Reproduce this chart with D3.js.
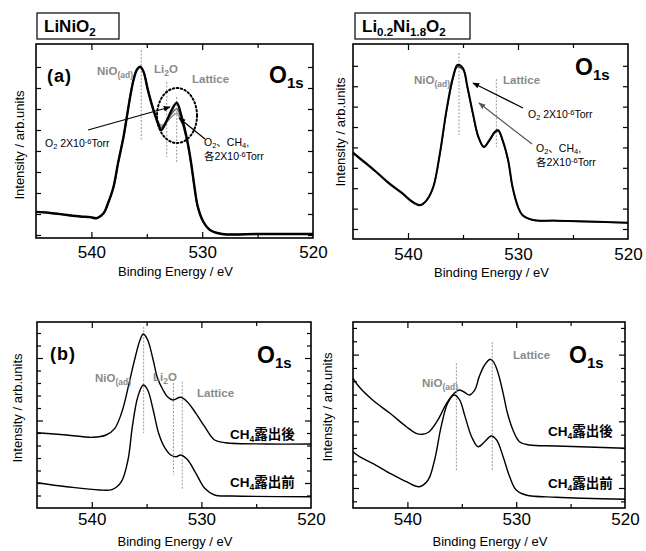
<!DOCTYPE html>
<html>
<head>
<meta charset="utf-8">
<title>O1s XPS spectra</title>
<style>
body { margin: 0; background: #fff; }
text { font-family: 'Liberation Sans', Arial, 'Noto Sans CJK JP', sans-serif; }
.peak { font-weight: bold; fill: #8a8a8a; font-size: 11.5px; }
.orb { font-weight: bold; fill: #000; font-size: 23px; }
.tag { font-weight: bold; fill: #000; font-size: 18px; letter-spacing: 1px; }
.note { fill: #000; font-size: 10.5px; }
.exp { font-weight: bold; fill: #000; font-size: 13.5px; }
.tick-label { font-size: 17px; }
.axis-label { font-size: 13px; }
</style>
<script src="https://cdn.jsdelivr.net/npm/d3@7"></script>
</head>
<body>
<div id="container"></div>
<script>
// ******* Data: binding energy (eV) and intensity (arb. units) *******

// (a) LiNiO2
const energyA = [545.0, 543.7, 542.2, 541.0, 540.1, 539.5, 538.9, 538.5, 538.0, 537.6, 537.1, 536.8,
                 536.5, 536.2, 535.9, 535.6, 535.3, 534.9, 534.4, 534.0, 533.7, 533.2, 532.8, 532.3,
                 531.9, 531.6, 531.3, 531.0, 530.7, 530.4, 529.9, 529.3, 528.2, 524.8, 520.0];
const intensityA_base = [1.10, 1.05, 0.95, 0.88, 0.85, 0.80, 1.03, 1.51, 2.30, 3.41, 4.68, 5.63,
                         6.59, 7.38, 7.86, 8.01, 7.78, 6.90, 5.95, 5.32, 5.00, 5.45, 5.90, 6.30,
                         5.71, 5.10, 4.37, 3.43, 2.30, 1.35, 0.63, 0.24, 0.05, 0.05, 0.05];
const intensityA_O2 = [1.10, 1.05, 0.95, 0.88, 0.85, 0.80, 1.03, 1.51, 2.30, 3.41, 4.68, 5.63,
                       6.59, 7.38, 7.86, 8.01, 7.78, 6.90, 5.95, 5.38, 5.12, 5.40, 5.75, 6.00,
                       5.55, 5.00, 4.33, 3.40, 2.28, 1.34, 0.63, 0.24, 0.05, 0.05, 0.05];
const intensityA_O2CH4 = [1.10, 1.05, 0.95, 0.88, 0.85, 0.80, 1.03, 1.51, 2.30, 3.41, 4.68, 5.63,
                          6.59, 7.38, 7.86, 8.01, 7.78, 6.90, 5.95, 5.42, 5.22, 5.38, 5.60, 5.80,
                          5.45, 4.95, 4.30, 3.38, 2.27, 1.33, 0.63, 0.24, 0.05, 0.05, 0.05];

// Li0.2Ni1.8O2
const energyB = [545.0, 543.8, 542.9, 541.7, 540.5, 539.6, 538.9, 538.3, 537.7, 537.1, 536.5, 535.9,
                 535.5, 535.0, 534.6, 534.1, 533.6, 533.1, 532.6, 532.1, 531.8, 531.4, 530.9, 530.5,
                 530.0, 529.6, 528.6, 526.5, 520.0];
const intensityB_O2 = [3.75, 3.22, 2.81, 2.24, 1.75, 1.34, 1.18, 1.42, 2.07, 3.71, 5.83, 7.47,
                       8.04, 7.88, 6.98, 5.67, 4.52, 4.03, 4.36, 4.77, 4.85, 4.36, 3.38, 2.07,
                       1.09, 0.69, 0.44, 0.41, 0.31];
const intensityB_O2CH4 = [3.70, 3.18, 2.78, 2.20, 1.72, 1.30, 1.15, 1.40, 2.05, 3.65, 5.75, 7.38,
                          7.95, 7.80, 6.90, 5.62, 4.48, 4.00, 4.32, 4.72, 4.80, 4.32, 3.35, 2.05,
                          1.08, 0.68, 0.43, 0.40, 0.30];

// (b) LiNiO2 before / after CH4
const energyC_after = [545.0, 542.3, 539.9, 538.7, 537.9, 537.2, 536.6, 536.1, 535.6, 535.3, 534.9, 534.4,
                       534.0, 533.5, 533.1, 532.6, 531.9, 531.3, 530.5, 529.7, 528.8, 527.8, 524.1, 520.0];
const intensityC_after = [0.805, 0.768, 0.731, 0.768, 0.875, 1.168, 1.595, 1.968, 2.288, 2.384, 2.288, 1.968,
                          1.675, 1.488, 1.381, 1.328, 1.371, 1.301, 1.115, 0.901, 0.688, 0.645, 0.624, 0.624];
const energyC_before = [545.0, 542.3, 539.3, 538.1, 537.3, 536.7, 536.3, 535.8, 535.3, 534.9, 534.4, 533.9,
                        533.4, 532.8, 532.3, 531.9, 531.3, 530.5, 529.7, 528.8, 527.2, 520.0];
const intensityC_before = [0.005, -0.059, -0.112, -0.101, 0.021, 0.368, 0.901, 1.381, 1.568, 1.488, 1.168, 0.795,
                           0.581, 0.448, 0.421, 0.448, 0.379, 0.155, -0.085, -0.192, -0.208, -0.219];

// Li0.2Ni1.8O2 before / after CH4
const energyD_after = [545.0, 544.4, 543.2, 541.6, 540.1, 539.2, 538.6, 538.0, 537.2, 536.4, 535.7, 535.2,
                       534.7, 534.3, 533.8, 533.4, 532.9, 532.4, 532.1, 531.7, 531.2, 530.8, 530.3, 529.7,
                       528.8, 526.3, 520.0];
const intensityD_after = [1.645, 1.51, 1.32, 1.12, 0.919, 0.82, 0.805, 0.844, 1.02, 1.27, 1.42, 1.47,
                          1.43, 1.394, 1.47, 1.67, 1.844, 1.93, 1.894, 1.744, 1.42, 1.12, 0.87, 0.694,
                          0.645, 0.63, 0.595];
const energyD_before = [545.0, 544.4, 543.2, 541.6, 540.1, 538.9, 538.1, 537.5, 536.9, 536.3, 535.7, 535.2,
                        534.7, 534.1, 533.5, 532.9, 532.3, 531.8, 531.2, 530.6, 530.0, 529.1, 526.3, 520.0];
const intensityD_before = [0.544, 0.469, 0.37, 0.22, 0.094, 0.019, 0.12, 0.42, 0.919, 1.27, 1.394, 1.32,
                           1.07, 0.769, 0.619, 0.694, 0.78, 0.72, 0.469, 0.169, -0.03, -0.105, -0.139, -0.169];

// peak position guides: energy, upper and lower intensity
const guidesA = [[535.5, 8.81, 4.52], [533.2, 7.29, 3.71], [532.3, 6.57, 3.43]];
const guidesB = [[535.36, 8.63, 4.61], [531.97, 7.35, 4.02]];
const guidesC = [[535.27, 2.50, 0.80], [532.55, 1.60, 0.13], [531.75, 1.62, -0.11]];
const guidesD = [[535.5, 1.87, 0.25], [532.2, 2.19, 0.27]];

const xLabelTicks = [540, 530, 520];
const xMajorTicks = [540, 530];
const xMinorTicks = [535, 525];

// ******* text bits *******
const NIO = [{t: "NiO"}, {t: "(ad)", sub: 1}];
const LI2O = [{t: "Li"}, {t: "2", sub: 1}, {t: "O"}];
const LAT = [{t: "Lattice"}];
const O1S = [{t: "O"}, {t: "1s", sub: 1}];
const O2NOTE = [{t: "O"}, {t: "2", sub: 1}, {t: " 2X10"}, {t: "-6", sup: 1}, {t: "Torr"}];
const MIX1 = [{t: "O"}, {t: "2", sub: 1}, {t: "、CH"}, {t: "4", sub: 1}, {t: ","}];
const MIX2 = [{t: "各2X10"}, {t: "-6", sup: 1}, {t: "Torr"}];
const AFTER = [{t: "CH"}, {t: "4", sub: 1}, {t: "露出後"}];
const BEFORE = [{t: "CH"}, {t: "4", sub: 1}, {t: "露出前"}];

// ******* SVG *******
const svg = d3.select("#container").append("svg")
    .attr("width", 646)
    .attr("height", 551);

svg.append("defs").append("marker")
    .attr("id", "arrow")
    .attr("viewBox", "0 0 10 10")
    .attr("refX", 9).attr("refY", 5)
    .attr("markerWidth", 7).attr("markerHeight", 7)
    .attr("markerUnits", "userSpaceOnUse")
    .attr("orient", "auto")
  .append("path")
    .attr("d", "M0,1 L10,5 L0,9 Z")
    .attr("fill", "context-stroke");

function richText(g, x, y, parts, cls) {
  const t = g.append("text").attr("x", x).attr("y", y).attr("class", cls);
  let shift = 0;
  parts.forEach(p => {
    const s = t.append("tspan").text(p.t);
    let target = 0;
    if (p.sub) target = cls === "orb" ? 5 : (cls === "note" ? 2 : 3);
    if (p.sup) target = -3;
    s.attr("dy", target - shift);
    if (p.sub || p.sup) s.attr("font-size", cls === "orb" ? "15px" : (cls === "note" ? "7.5px" : "8.5px"));
    shift = target;
  });
  return t;
}

function drawPanel(p) {
  const g = svg.append("g").attr("transform", `translate(${p.left},${p.top})`);
  const x = d3.scaleLinear().domain([545, 520]).range([0, p.width]);
  const y = d3.scaleLinear().domain(p.yDomain).range([p.height, 0]);

  // dashed guides
  g.selectAll(".guide").data(p.guides).enter().append("line")
      .attr("x1", d => x(d[0])).attr("x2", d => x(d[0]))
      .attr("y1", d => y(d[1])).attr("y2", d => y(d[2]))
      .attr("stroke", "#9a9a9a")
      .attr("stroke-width", 1)
      .attr("stroke-dasharray", "2,1.5");

  // spectra
  const line = d3.line()
      .x(d => x(d[0]))
      .y(d => y(d[1]))
      .curve(d3.curveCatmullRom.alpha(0.5));
  p.series.forEach(s => {
    g.append("path")
        .datum(d3.zip(s.energy, s.values))
        .attr("d", line)
        .attr("fill", "none")
        .attr("stroke", s.color)
        .attr("stroke-width", s.width)
        .attr("stroke-linejoin", "round");
  });

  // inward ticks on all four sides
  const clean = sel => { sel.select(".domain").remove(); sel.selectAll("text").remove(); };
  [[d3.axisBottom, p.height], [d3.axisTop, 0]].forEach(([ax, ty]) => {
    g.append("g").attr("transform", `translate(0,${ty})`)
        .call(ax(x).tickValues(xMajorTicks).tickSize(-6)).call(clean);
    g.append("g").attr("transform", `translate(0,${ty})`)
        .call(ax(x).tickValues(xMinorTicks).tickSize(-4)).call(clean);
  });
  [[d3.axisLeft, 0], [d3.axisRight, p.width]].forEach(([ax, tx]) => {
    g.append("g").attr("transform", `translate(${tx},0)`)
        .call(ax(y).tickValues(p.yMajor).tickSize(-p.yMajorLen)).call(clean);
    if (p.yMinor.length) {
      g.append("g").attr("transform", `translate(${tx},0)`)
          .call(ax(y).tickValues(p.yMinor).tickSize(-4)).call(clean);
    }
  });
  g.selectAll(".tick line").attr("stroke", "#000").attr("stroke-width", 1.2);

  // tick labels
  const lab = g.append("g").attr("transform", `translate(0,${p.height})`)
      .call(d3.axisBottom(x).tickValues(xLabelTicks).tickSize(0).tickPadding(p.labelPad).tickFormat(d3.format("d")));
  lab.select(".domain").remove();
  lab.selectAll("text").attr("class", "tick-label").attr("font-family", null).attr("font-size", null).attr("fill", "#000");

  // frame
  g.append("rect")
      .attr("width", p.width).attr("height", p.height)
      .attr("fill", "none").attr("stroke", "#000").attr("stroke-width", 1.6);

  // axis titles
  g.append("text").attr("class", "axis-label")
      .attr("x", p.width / 2 + 1).attr("y", p.height + 38)
      .attr("text-anchor", "middle")
      .text("Binding Energy / eV");
  g.append("text").attr("class", "axis-label")
      .attr("transform", `translate(${p.yTitleX},${p.yTitleY}) rotate(-90)`)
      .attr("text-anchor", "middle")
      .text("Intensity / arb.units");

  // annotations
  p.labels.forEach(l => richText(g, l.x, l.y, l.parts, l.cls));
  (p.arrows || []).forEach(a => {
    g.append("line")
        .attr("x1", a.x1).attr("y1", a.y1).attr("x2", a.x2).attr("y2", a.y2)
        .attr("stroke", a.color).attr("stroke-width", 1.2)
        .attr("marker-end", "url(#arrow)");
  });
  if (p.ellipse) {
    g.append("ellipse")
        .attr("cx", p.ellipse.cx).attr("cy", p.ellipse.cy)
        .attr("rx", p.ellipse.rx).attr("ry", p.ellipse.ry)
        .attr("fill", "none").attr("stroke", "#000")
        .attr("stroke-width", 2).attr("stroke-dasharray", "1.5,2.5")
        .attr("stroke-linecap", "round");
  }
}

const panels = [
  {
    left: 36, top: 44, width: 277, height: 194, yDomain: [-0.143, 9.095],
    yMajor: d3.range(0, 9), yMajorLen: 5, yMinor: [], labelPad: 8,
    yTitleX: -12, yTitleY: 101, guides: guidesA,
    series: [
      {energy: energyA, values: intensityA_O2CH4, color: "#999", width: 1.6},
      {energy: energyA, values: intensityA_O2, color: "#666", width: 1.6},
      {energy: energyA, values: intensityA_base, color: "#000", width: 2.4}
    ],
    labels: [
      {parts: [{t: "(a)"}], x: 11, y: 38, cls: "tag"},
      {parts: NIO, x: 61, y: 31, cls: "peak"},
      {parts: LI2O, x: 118, y: 29, cls: "peak"},
      {parts: LAT, x: 156, y: 39, cls: "peak"},
      {parts: O1S, x: 233, y: 39, cls: "orb"},
      {parts: O2NOTE, x: 9, y: 103, cls: "note"},
      {parts: MIX1, x: 168, y: 102, cls: "note"},
      {parts: MIX2, x: 168, y: 116, cls: "note"}
    ],
    arrows: [
      {x1: 52, y1: 86, x2: 134, y2: 63, color: "#000"},
      {x1: 169, y1: 95, x2: 143, y2: 74, color: "#000"}
    ],
    ellipse: {cx: 141, cy: 71.5, rx: 20, ry: 27.5}
  },
  {
    left: 353, top: 44, width: 275, height: 195, yDomain: [-0.49, 9.07],
    yMajor: d3.range(0, 9), yMajorLen: 5, yMinor: [], labelPad: 9,
    yTitleX: -8, yTitleY: 88, guides: guidesB,
    series: [
      {energy: energyB, values: intensityB_O2CH4, color: "#333", width: 1.4},
      {energy: energyB, values: intensityB_O2, color: "#000", width: 2.0}
    ],
    labels: [
      {parts: NIO, x: 61, y: 40, cls: "peak"},
      {parts: LAT, x: 150, y: 40, cls: "peak"},
      {parts: O1S, x: 222, y: 31, cls: "orb"},
      {parts: O2NOTE, x: 175, y: 74, cls: "note"},
      {parts: MIX1, x: 183, y: 108, cls: "note"},
      {parts: MIX2, x: 183, y: 122, cls: "note"}
    ],
    arrows: [
      {x1: 170, y1: 64, x2: 120, y2: 39, color: "#000"},
      {x1: 179, y1: 100, x2: 126, y2: 59, color: "#555"}
    ]
  },
  {
    left: 37, top: 322, width: 274, height: 186, yDomain: [-0.4, 2.576],
    yMajor: [0, 1, 2], yMajorLen: 6, yMinor: [-0.2, 0.2, 0.4, 0.6, 0.8, 1.2, 1.4, 1.6, 1.8, 2.2, 2.4],
    labelPad: 5, yTitleX: -15, yTitleY: 86, guides: guidesC,
    series: [
      {energy: energyC_after, values: intensityC_after, color: "#000", width: 1.4},
      {energy: energyC_before, values: intensityC_before, color: "#000", width: 1.4}
    ],
    labels: [
      {parts: [{t: "(b)"}], x: 13, y: 38, cls: "tag"},
      {parts: O1S, x: 220, y: 41, cls: "orb"},
      {parts: NIO, x: 58, y: 60, cls: "peak"},
      {parts: LI2O, x: 116, y: 59, cls: "peak"},
      {parts: LAT, x: 160, y: 75, cls: "peak"},
      {parts: AFTER, x: 193, y: 117, cls: "exp"},
      {parts: BEFORE, x: 193, y: 165, cls: "exp"}
    ]
  },
  {
    left: 353, top: 322, width: 272, height: 186, yDomain: [-0.3, 2.489],
    yMajor: [0, 1, 2], yMajorLen: 6, yMinor: [-0.2, 0.2, 0.4, 0.6, 0.8, 1.2, 1.4, 1.6, 1.8, 2.2, 2.4],
    labelPad: 5, yTitleX: -21, yTitleY: 85, guides: guidesD,
    series: [
      {energy: energyD_after, values: intensityD_after, color: "#000", width: 1.4},
      {energy: energyD_before, values: intensityD_before, color: "#000", width: 1.4}
    ],
    labels: [
      {parts: NIO, x: 69, y: 65, cls: "peak"},
      {parts: LAT, x: 160, y: 37, cls: "peak"},
      {parts: O1S, x: 216, y: 41, cls: "orb"},
      {parts: AFTER, x: 195, y: 114, cls: "exp"},
      {parts: BEFORE, x: 195, y: 166, cls: "exp"}
    ]
  }
];

panels.forEach(drawPanel);

// ******* sample name boxes *******
const boxes = [
  {x: 37, w: 82, parts: [{t: "LiNiO"}, {t: "2", sub: 1}]},
  {x: 355, w: 115, parts: [{t: "Li"}, {t: "0.2", sub: 1}, {t: "Ni"}, {t: "1.8", sub: 1}, {t: "O"}, {t: "2", sub: 1}]}
];
boxes.forEach(b => {
  svg.append("rect").attr("x", b.x).attr("y", 13).attr("width", b.w).attr("height", 26)
      .attr("fill", "#fff").attr("stroke", "#000").attr("stroke-width", 1.2);
  const t = svg.append("text").attr("x", b.x + 7).attr("y", 32)
      .attr("font-weight", "bold").attr("font-size", "17px");
  let shift = 0;
  b.parts.forEach(p => {
    const target = p.sub ? 4 : 0;
    t.append("tspan").text(p.t).attr("dy", target - shift)
        .attr("font-size", p.sub ? "11.5px" : null);
    shift = target;
  });
});
</script>
</body>
</html>
